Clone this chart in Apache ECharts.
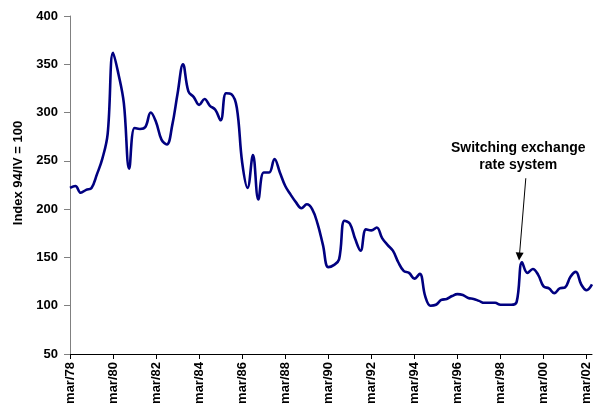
<!DOCTYPE html>
<html>
<head>
<meta charset="utf-8">
<script src="https://cdn.jsdelivr.net/npm/echarts@6/dist/echarts.min.js"></script>
<style>
  html, body { margin: 0; padding: 0; background: #fff; }
  #chart { width: 595px; height: 409px; }
</style>
</head>
<body>
<div id="chart"></div>
<script>
// Real effective exchange rate index, quarterly from mar/78 to jun/02 (94/IV = 100)
const tickLabels = ['mar/78', 'mar/80', 'mar/82', 'mar/84', 'mar/86', 'mar/88', 'mar/90',
                    'mar/92', 'mar/94', 'mar/96', 'mar/98', 'mar/00', 'mar/02'];
const quartersPerTick = 8;

const indexValues = [
  222, 224, 217, 220, 222, 236, 252, 278, 362, 340,
  310, 242, 284, 283, 285, 300, 290, 272, 267, 287,
  320, 350, 322, 316, 308, 314, 307, 303, 292, 320,
  319, 305, 248, 222, 256, 210, 238, 238, 252, 238,
  224, 215, 207, 201, 205, 200, 185, 163, 140, 142,
  148, 188, 185, 169, 157, 179, 178, 181, 170, 163,
  157, 145, 136, 134, 128, 133, 110, 100, 101, 106,
  107, 110, 112, 111, 108, 107, 105, 103, 103, 103,
  101, 101, 101, 104, 145, 134, 138, 132, 120, 118,
  113, 118, 119, 130, 135, 122, 116, 122
];

// Annotation: label position and arrow (quarter index, index value)
const noteText = 'Switching exchange\nrate system';
const notePos = [83.3, 254];
const arrowFrom = [84.7, 232];
const arrowTo = [83.5, 151];

const seriesData = indexValues.map((v, i) => [i, v]);
const font = 'Liberation Sans, Arial, Helvetica, sans-serif';

const chart = echarts.init(document.getElementById('chart'), null, { renderer: 'canvas' });
chart.setOption({
  animation: false,
  backgroundColor: '#ffffff',
  grid: { left: 70, right: 3, top: 16, bottom: 55, containLabel: false },
  xAxis: {
    type: 'value',
    min: 0,
    max: indexValues.length - 1,
    interval: quartersPerTick,
    splitLine: { show: false },
    axisLine: { show: true, lineStyle: { color: '#000', width: 1 } },
    axisTick: { show: true, length: 5, lineStyle: { color: '#000' } },
    axisLabel: {
      rotate: 90,
      margin: 8,
      fontFamily: font,
      fontWeight: 'bold',
      fontSize: 13,
      color: '#000',
      showMaxLabel: false,
      formatter: v => tickLabels[Math.round(v / quartersPerTick)] || ''
    }
  },
  yAxis: {
    type: 'value',
    min: 50,
    max: 400,
    interval: 50,
    name: 'Index 94/IV = 100',
    nameLocation: 'middle',
    nameGap: 37,
    nameTextStyle: {
      fontFamily: font, fontWeight: 'bold', fontSize: 13, color: '#000',
      padding: [0, 0, 0, 24]
    },
    splitLine: { show: false },
    axisLine: { show: true, lineStyle: { color: '#808080', width: 1 } },
    axisTick: { show: true, length: 6, lineStyle: { color: '#808080' } },
    axisLabel: {
      margin: 12,
      fontFamily: font, fontWeight: 'bold', fontSize: 13, color: '#000'
    }
  },
  series: [{
    type: 'line',
    data: seriesData,
    smooth: 0.4,
    symbol: 'none',
    lineStyle: { color: '#000080', width: 2.6 },
    markPoint: {
      silent: true,
      symbol: 'rect',
      symbolSize: 0,
      data: [{ coord: notePos, value: 0 }],
      label: {
        show: true,
        position: 'inside',
        formatter: noteText,
        fontFamily: font,
        fontWeight: 'bold',
        fontSize: 14,
        lineHeight: 17,
        color: '#000',
        align: 'center'
      }
    },
    markLine: {
      silent: true,
      symbol: ['none', 'triangle'],
      symbolSize: 8,
      label: { show: false },
      itemStyle: { color: '#000' },
      lineStyle: { color: '#000', width: 1, type: 'solid' },
      data: [[{ coord: arrowFrom }, { coord: arrowTo }]]
    }
  }]
});
</script>
</body>
</html>
